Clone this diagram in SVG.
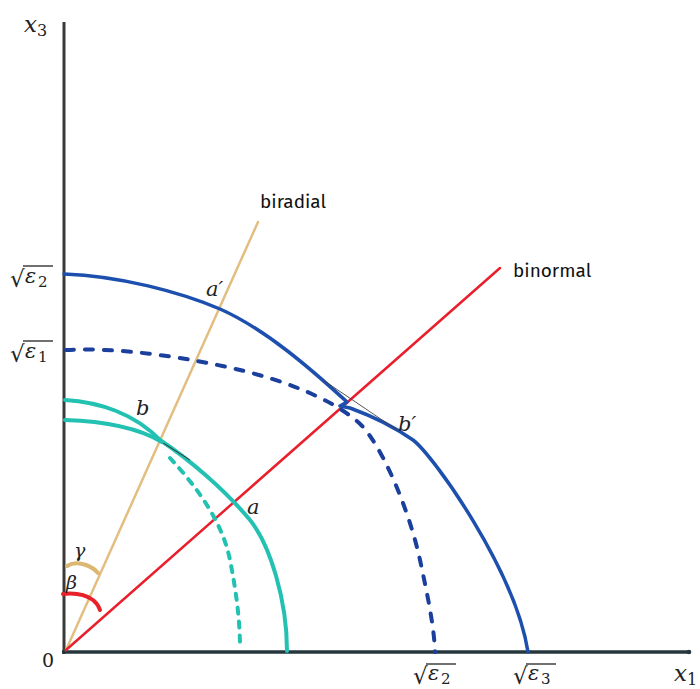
<svg xmlns="http://www.w3.org/2000/svg" width="700" height="689" viewBox="0 0 700 689">
<style>
.lbl{font-family:'DejaVu Serif','Liberation Serif',serif;font-style:italic;fill:#222}
.sub{font-family:'DejaVu Serif','Liberation Serif',serif;font-style:normal;fill:#222}
.sans{font-family:"Fira Sans","Noto Sans","Liberation Sans",sans-serif;font-size:19px;fill:#111}
.bar{stroke:#222;stroke-width:1.3}
.curve{fill:none;stroke-linecap:round;stroke-linejoin:round}
</style>
<rect width="700" height="689" fill="#ffffff"/>
<g id="axes">
  <line x1="64" y1="22" x2="64" y2="654" stroke="#3a3a3a" stroke-width="3"/>
  <line x1="62" y1="652" x2="690" y2="652" stroke="#25363c" stroke-width="3.5"/>
  <circle cx="689" cy="652" r="2.3" fill="#25363c"/>
</g>
<g id="connectors">
  <line id="biradial-line" x1="66" y1="650" x2="258" y2="222" stroke="#e2bf80" stroke-width="2.5" stroke-linecap="round"/>
  <line id="binormal-line" x1="66" y1="650" x2="500" y2="268" stroke="#ea1f2c" stroke-width="2.5" stroke-linecap="round"/>
</g>
<g id="outer-blue">
  <path class="curve" stroke="#1d4fae" stroke-width="3.5" d="M64,274 C120,276 180,292 220,309 C265,329 310,368 347,402 L340,406 L350,408 C372,416 393,426 413,440 C433,455 515,570 528,652"/>
  <line x1="323" y1="380" x2="397" y2="430" stroke="#444" stroke-width="0.9"/>
</g>
<g id="dashed-blue">
  <path class="curve" stroke="#1b3f9c" stroke-width="4" stroke-dasharray="8 11" d="M66,350 C120,347 190,358 240,370 C285,381 330,398 358,422 C379,440 408,505 420,560 C427,593 434,625 435,652"/>
</g>
<g id="cyan-outer">
  <path class="curve" stroke="#22c1b2" stroke-width="4" d="M65,400 C100,402 135,414 160,440 C190,460 225,490 250,520 C270,545 287,600 287,651"/>
  <line x1="160" y1="441" x2="190" y2="460" stroke="#333" stroke-width="1"/>
</g>
<g id="cyan-inner">
  <path class="curve" stroke="#22c1b2" stroke-width="4" d="M65,420 C100,421 135,426 162,442"/>
  <path class="curve" stroke="#22c1b2" stroke-width="4" stroke-dasharray="6 8" d="M170,458 C195,485 222,520 230,560 C236,590 240,620 240,648"/>
</g>
<g id="angle-gamma">
  <path class="curve" stroke="#dcb772" stroke-width="4" d="M67,566 Q75,561 86,565 Q94,568 98,573"/>
  <text class="lbl" x="74" y="557" font-size="19">γ</text>
</g>
<g id="angle-beta">
  <path class="curve" stroke="#e8202a" stroke-width="4" d="M63,594 Q82,592 93,600 Q98,604 100,610"/>
  <text class="lbl" x="66" y="589" font-size="19">β</text>
</g>
<g id="point-labels">
  <text class="lbl" x="206" y="296" font-size="21">a′</text>
  <text class="lbl" x="136" y="415" font-size="21">b</text>
  <text class="lbl" x="247" y="514" font-size="21">a</text>
  <text class="lbl" x="398" y="431" font-size="21">b′</text>
</g>
<g id="line-labels">
  <text class="sans" x="260" y="208">biradial</text>
  <text class="sans" x="513" y="277">binormal</text>
</g>
<g id="axis-labels">
  <text class="lbl" x="24" y="32" font-size="23">x</text><text class="sub" x="37" y="36" font-size="16">3</text>
  <text class="lbl" x="674" y="681" font-size="23">x</text><text class="sub" x="687" y="685" font-size="16">1</text>
  <text class="sub" x="42" y="667" font-size="19">0</text>
</g>
<g id="sqrt-labels">
  <text class="sub" x="10" y="287" font-size="23">√</text>
  <line class="bar" x1="23" y1="266" x2="53" y2="266"/>
  <text class="lbl" x="25" y="283" font-size="21">ε</text><text class="sub" x="38" y="287" font-size="15">2</text>

  <text class="sub" x="10" y="362" font-size="23">√</text>
  <line class="bar" x1="23" y1="341" x2="53" y2="341"/>
  <text class="lbl" x="25" y="358" font-size="21">ε</text><text class="sub" x="38" y="362" font-size="15">1</text>

  <text class="sub" x="413" y="684" font-size="23">√</text>
  <line class="bar" x1="426" y1="664" x2="456" y2="664"/>
  <text class="lbl" x="428" y="680" font-size="21">ε</text><text class="sub" x="441" y="684" font-size="15">2</text>

  <text class="sub" x="513" y="684" font-size="23">√</text>
  <line class="bar" x1="526" y1="664" x2="556" y2="664"/>
  <text class="lbl" x="528" y="680" font-size="21">ε</text><text class="sub" x="541" y="684" font-size="15">3</text>
</g>
</svg>
